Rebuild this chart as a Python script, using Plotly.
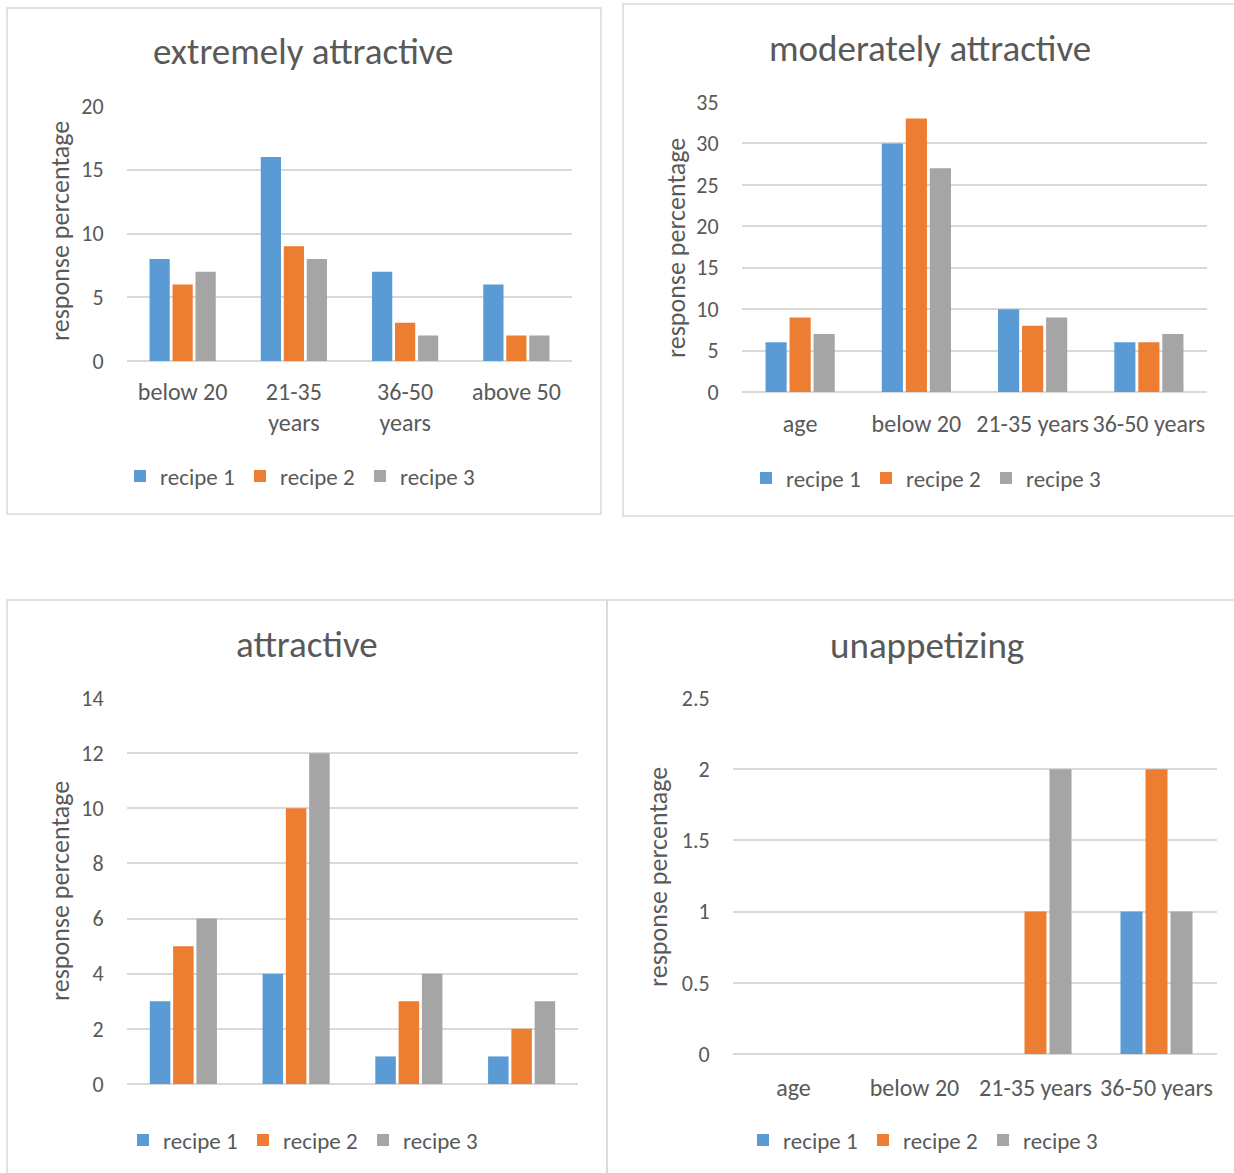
import plotly.graph_objects as go

W, H = 1234, 1173

series_names = ["recipe 1", "recipe 2", "recipe 3"]
colors = ["#5B9BD5", "#ED7D31", "#A5A5A5"]

# Panel 1: extremely attractive
p1_title = "extremely attractive"
p1_cats = ["below 20", "21-35<br>years", "36-50<br>years", "above 50"]
p1_r1 = [8, 16, 7, 6]
p1_r2 = [6, 9, 3, 2]
p1_r3 = [7, 8, 2, 2]

# Panel 2: moderately attractive
p2_title = "moderately attractive"
p2_cats = ["age", "below 20", "21-35 years", "36-50 years"]
p2_r1 = [6, 30, 10, 6]
p2_r2 = [9, 33, 8, 6]
p2_r3 = [7, 27, 9, 7]

# Panel 3: attractive (no category labels shown)
p3_title = "attractive"
p3_cats = ["below 20", "21-35 years", "36-50 years", "above 50"]
p3_r1 = [3, 4, 1, 1]
p3_r2 = [5, 10, 3, 2]
p3_r3 = [6, 12, 4, 3]

# Panel 4: unappetizing
p4_title = "unappetizing"
p4_cats = ["age", "below 20", "21-35 years", "36-50 years"]
p4_r1 = [0, 0, 0, 1]
p4_r2 = [0, 0, 1, 2]
p4_r3 = [0, 0, 2, 1]

y_title = "response percentage"

FONT = "Carlito, Lato, sans-serif"
TXT = "#595959"
GRID = "#D9D9D9"

panels = [
    dict(title=p1_title, cats=p1_cats, vals=[p1_r1, p1_r2, p1_r3], yr=[0, 20], dt=5,
         plot=(127, 572, 106, 361), showx=True, tl=9,
         title_xy=(303, 52), ytitle_xy=(60, 231), leg_xy=(139, 476),
         border=(7, 601, 8, 514)),
    dict(title=p2_title, cats=p2_cats, vals=[p2_r1, p2_r2, p2_r3], yr=[0, 35], dt=5,
         plot=(742, 1207, 102, 392), showx=True, tl=10,
         title_xy=(930, 48), ytitle_xy=(676, 248), leg_xy=(765, 478),
         border=(623, 1240, 4, 516)),
    dict(title=p3_title, cats=p3_cats, vals=[p3_r1, p3_r2, p3_r3], yr=[0, 14], dt=2,
         plot=(127, 578, 698, 1084), showx=False, tl=10,
         title_xy=(307, 644), ytitle_xy=(60, 891), leg_xy=(142, 1140),
         border=(7, 607, 600, 1185)),
    dict(title=p4_title, cats=p4_cats, vals=[p4_r1, p4_r2, p4_r3], yr=[0, 2.5], dt=0.5,
         plot=(733, 1217, 698, 1054), showx=True, tl=12,
         title_xy=(927, 645), ytitle_xy=(658, 877), leg_xy=(762, 1140),
         border=(607, 1240, 600, 1185)),
]

fig = go.Figure()
layout = dict(
    width=W, height=H, margin=dict(l=0, r=0, t=0, b=0, autoexpand=False),
    paper_bgcolor="white", plot_bgcolor="white",
    barmode="group", bargap=0.38, bargroupgap=0.12,
    font=dict(family=FONT, color=TXT, size=24),
    annotations=[], shapes=[],
)

for i, p in enumerate(panels):
    n = "" if i == 0 else str(i + 1)
    xa, ya = "x" + n, "y" + n
    leg = "legend" + n
    for s in range(3):
        fig.add_trace(go.Bar(
            x=p["cats"], y=p["vals"][s], name=series_names[s],
            marker=dict(color=colors[s], line=dict(width=0)),
            xaxis=xa, yaxis=ya, legend=leg, hoverinfo="x+y+name",
        ))
    x0, x1, y0, y1 = p["plot"]
    layout["xaxis" + n] = dict(
        domain=[x0 / W, x1 / W], anchor=ya, type="category",
        showticklabels=p["showx"], ticks="outside", ticklen=p["tl"],
        tickcolor="rgba(0,0,0,0)", showgrid=False, showline=False, zeroline=False,
        tickfont=dict(size=24, color=TXT, family=FONT), fixedrange=True,
        automargin=False,
    )
    layout["yaxis" + n] = dict(
        domain=[1 - y1 / H, 1 - y0 / H], anchor=xa, range=p["yr"], dtick=p["dt"],
        tick0=0, showgrid=True, gridcolor=GRID, gridwidth=1.5, zeroline=True,
        zerolinecolor=GRID, zerolinewidth=1.5, showline=False,
        ticks="outside", ticklen=18, tickcolor="rgba(0,0,0,0)",
        tickfont=dict(size=22, color=TXT, family=FONT), fixedrange=True,
        automargin=False,
    )
    lx, ly = p["leg_xy"]
    layout[leg] = dict(
        orientation="h", x=(lx - 19) / W, y=1 - ly / H, xanchor="left", yanchor="middle",
        font=dict(size=23, color=TXT, family=FONT), bgcolor="rgba(0,0,0,0)",
        entrywidth=75, entrywidthmode="pixels", itemclick=False, itemdoubleclick=False,
    )
    tx, ty = p["title_xy"]
    layout["annotations"].append(dict(
        text=p["title"], x=tx / W, y=1 - ty / H, xref="paper", yref="paper",
        showarrow=False, xanchor="center", yanchor="middle",
        font=dict(size=37, color=TXT, family=FONT),
    ))
    ax, ay = p["ytitle_xy"]
    layout["annotations"].append(dict(
        text=y_title, x=ax / W, y=1 - ay / H, xref="paper", yref="paper",
        showarrow=False, xanchor="center", yanchor="middle", textangle=-90,
        font=dict(size=26, color=TXT, family=FONT),
    ))
    bx0, bx1, by0, by1 = p["border"]
    layout["shapes"].append(dict(
        type="rect", xref="paper", yref="paper",
        x0=bx0 / W, x1=bx1 / W, y0=1 - by1 / H, y1=1 - by0 / H,
        line=dict(color="#D9D9D9", width=1.5), fillcolor="rgba(0,0,0,0)", layer="below",
    ))

fig.update_layout(**layout)
fig.write_html("out.html", config={"displayModeBar": False},
               post_script="document.body.style.margin='0';document.body.style.overflow='hidden';")
